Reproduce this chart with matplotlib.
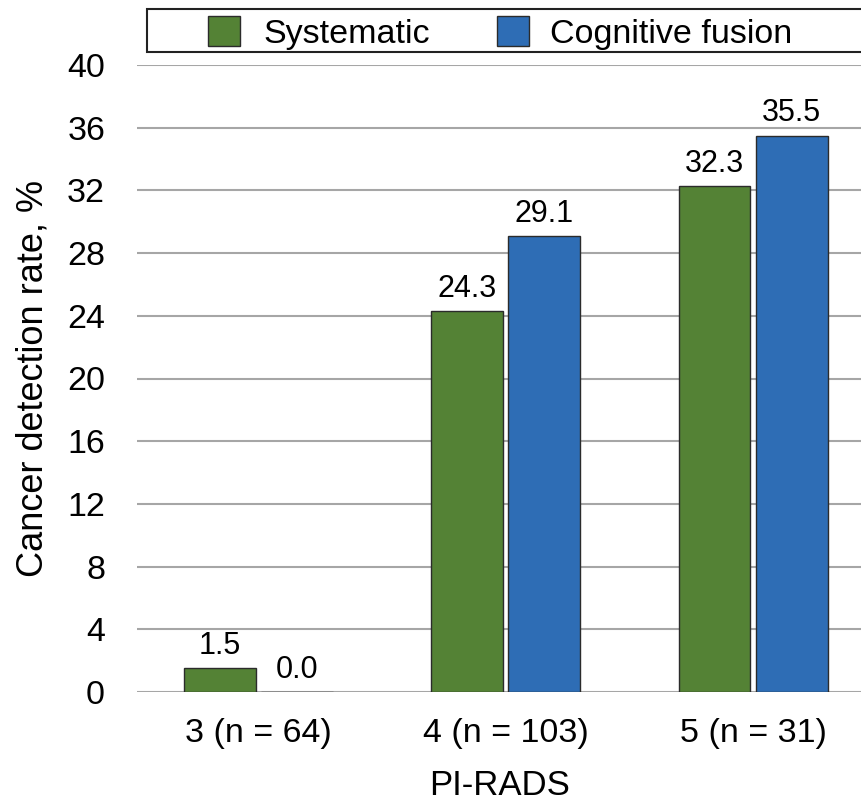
import numpy as np
import matplotlib.pyplot as plt
from matplotlib.patches import Rectangle

plt.rcParams['font.family'] = ['Liberation Sans', 'DejaVu Sans']

# Data
categories = ['3 (n = 64)', '4 (n = 103)', '5 (n = 31)']
systematic = [1.5, 24.3, 32.3]
cognitive = [0.0, 29.1, 35.5]
series_names = ['Systematic', 'Cognitive fusion']
yticks = [0, 4, 8, 12, 16, 20, 24, 28, 32, 36, 40]

green = '#548235'
blue = '#2e6db5'

W, H = 862, 801
fig = plt.figure(figsize=(W / 100, H / 100), dpi=100)
ax = fig.add_axes([137 / W, 1 - 692 / H, 1 - 137 / W, (692 - 65) / H])

x = np.arange(len(categories))
w = 0.29
off = 0.156
b1 = ax.bar(x - off, systematic, w, color=green, edgecolor='#2b2b2b', linewidth=1, zorder=3)
b2 = ax.bar(x + off, cognitive, w, color=blue, edgecolor='#2b2b2b', linewidth=1, zorder=3)

for bars, vals in [(b1, systematic), (b2, cognitive)]:
    for r, v in zip(bars, vals):
        ax.text(r.get_x() + r.get_width() / 2, v + 0.45, f'{v:.1f}',
                ha='center', va='bottom', fontsize=22)

ax.set_xlim(-0.49, 2.44)
ax.set_ylim(0, 40)
ax.set_yticks(yticks)
ax.set_xticks(x)
ax.set_xticklabels(categories)
ax.tick_params(axis='both', length=0, labelsize=24.5)
ax.tick_params(axis='y', pad=23)
ax.tick_params(axis='x', pad=19)
ax.yaxis.grid(True, color='#a6a6a6', linewidth=1.5, zorder=0)
for s in ax.spines.values():
    s.set_visible(False)

ax.set_ylabel('Cancer detection rate, %', fontsize=26, labelpad=12)
ax.set_xlabel('PI-RADS', fontsize=25, labelpad=14)

# Legend box across the top
fig.patches.append(Rectangle((147 / W, 1 - 52 / H), 1, 43 / H,
                             transform=fig.transFigure, facecolor='white',
                             edgecolor='#222222', linewidth=1.5))
for px, tx, col, name in [(208, 263, green, series_names[0]),
                          (497, 550, blue, series_names[1])]:
    fig.patches.append(Rectangle((px / W, 1 - 46 / H), 32 / W, 30 / H,
                                 transform=fig.transFigure, facecolor=col,
                                 edgecolor='#2b2b2b', linewidth=1))
    fig.text(tx / W, 1 - 43 / H, name, fontsize=24.5, va='baseline', ha='left')

fig.savefig('out.png', dpi=100)
